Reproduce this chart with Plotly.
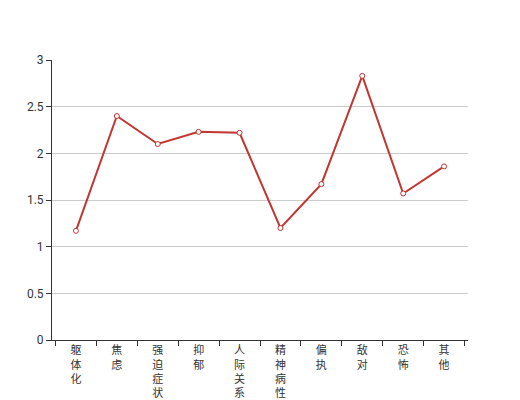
import plotly.graph_objects as go

categories = ["躯体化", "焦虑", "强迫症状", "抑郁", "人际关系敏感", "精神病性", "偏执", "敌对", "恐怖", "其他"]
values = [1.17, 2.40, 2.10, 2.23, 2.22, 1.20, 1.67, 2.83, 1.57, 1.86]
y_ticks = [0, 0.5, 1, 1.5, 2, 2.5, 3]
y_tick_labels = ["0", "0.5", "1", "1.5", "2", "2.5", "3"]

tick_text = ["<br>".join(list(c)) for c in categories]

fig = go.Figure(go.Scatter(
    x=categories, y=values, mode="lines+markers",
    line=dict(color="#c23531", width=2),
    marker=dict(symbol="circle", size=5, color="white", line=dict(color="#c23531", width=1)),
    hoverinfo="skip",
))

fig.update_layout(
    width=520, height=400,
    margin=dict(l=44, r=60, t=52, b=68),
    paper_bgcolor="white", plot_bgcolor="white",
    showlegend=False,
    font=dict(family="Noto Sans CJK SC, sans-serif", size=12, color="#333"),
)
fig.update_xaxes(
    type="category", tickmode="array", tickvals=categories, ticktext=tick_text,
    tickson="boundaries", ticks="outside", ticklen=5, tickcolor="#333",
    showline=True, linecolor="#333", linewidth=1, showgrid=False,
    tickangle=0, automargin=False, tickfont=dict(size=11, color="#333"),
)
fig.update_yaxes(
    range=[0, 3], tickmode="array", tickvals=y_ticks, ticktext=y_tick_labels,
    ticks="outside", ticklen=5, tickcolor="#333",
    showline=True, linecolor="#333", linewidth=1,
    showgrid=True, gridcolor="#ccc", gridwidth=1, zeroline=False,
    automargin=False, tickfont=dict(size=12, color="#333", family="Roboto, sans-serif"),
)

fig.write_html("out.html")
